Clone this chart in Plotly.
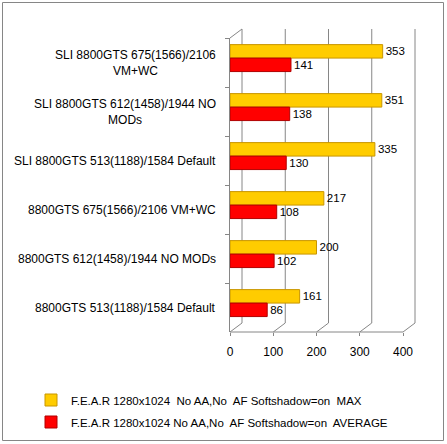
import plotly.graph_objects as go

# Categories, top to bottom as shown
categories = [
    "SLI 8800GTS 675(1566)/2106<br>VM+WC",
    "SLI 8800GTS 612(1458)/1944 NO<br>MODs",
    "SLI 8800GTS 513(1188)/1584 Default",
    "8800GTS 675(1566)/2106 VM+WC",
    "8800GTS 612(1458)/1944 NO MODs",
    "8800GTS 513(1188)/1584 Default",
]
max_values = [353, 351, 335, 217, 200, 161]
avg_values = [141, 138, 130, 108, 102, 86]
series_names = [
    "F.E.A.R 1280x1024  No AA,No  AF Softshadow=on  MAX",
    "F.E.A.R 1280x1024 No AA,No  AF Softshadow=on  AVERAGE",
]
x_ticks = [0, 100, 200, 300, 400]

font_family = "Liberation Sans"
grey = '#868686'

# plot area (front plane) in pixels: x 230..403, y 38..332
L, R, T, B = 230, 403, 38, 332
W, H = 447, 444
pw, ph = float(R - L), float(B - T)
def px(x):
    return (x - L) / pw
def py(y):
    return (B - y) / ph

# 3d depth of the chart walls
dx, dy = 12, 9

bar_w = 0.275
shift = 0.09

fig = go.Figure()
fig.add_trace(go.Bar(
    y=categories, x=max_values, orientation='h', name=series_names[0],
    legendgroup='max', width=bar_w, offset=-shift - bar_w,
    marker=dict(color='#FFCC00', line=dict(color='#C89600', width=1)),
    text=max_values, textposition='outside', cliponaxis=False,
    textfont=dict(size=11.5, color='#000000'),
))
fig.add_trace(go.Bar(
    y=categories, x=avg_values, orientation='h', name=series_names[1],
    legendgroup='avg', width=bar_w, offset=-shift,
    marker=dict(color='#FF0000', line=dict(color='#B00000', width=1)),
    text=avg_values, textposition='outside', cliponaxis=False,
    textfont=dict(size=11.5, color='#000000'),
))

shapes = []
for t in x_ticks:
    fx = L + t * pw / 400
    bx = fx + dx
    # back wall gridline
    shapes.append(dict(type='line', xref='paper', yref='paper',
                       x0=px(bx), x1=px(bx), y0=py(B - dy), y1=py(T - dy),
                       line=dict(color=grey, width=1), layer='below'))
    # floor line from front tick to back wall
    shapes.append(dict(type='line', xref='paper', yref='paper',
                       x0=px(fx), x1=px(bx), y0=0, y1=py(B - dy),
                       line=dict(color=grey, width=1), layer='below'))
# left wall top edge
shapes.append(dict(type='line', xref='paper', yref='paper',
                   x0=0, x1=px(L + dx), y0=1, y1=py(T - dy),
                   line=dict(color=grey, width=1), layer='below'))
# front base line
shapes.append(dict(type='line', xref='paper', yref='paper', x0=0, x1=1,
                   y0=0, y1=0, line=dict(color=grey, width=1)))
# outer chart border
shapes.append(dict(type='rect', xref='paper', yref='paper',
                   x0=px(2.5), x1=px(443.5), y0=py(440.5), y1=py(2.5),
                   line=dict(color=grey, width=1), fillcolor='rgba(0,0,0,0)'))

# category labels, centred lines like the original
annotations = [
    dict(x=px(218), y=c, xref='paper', yref='y', text=c, showarrow=False,
         xanchor='right', yanchor='middle', align='center',
         font=dict(size=12, color='#000000'))
    for c in categories
]

fig.update_layout(
    width=W, height=H,
    margin=dict(l=L, r=W - R, t=T, b=H - B, autoexpand=False),
    paper_bgcolor='white', plot_bgcolor='white',
    font=dict(family=font_family, size=11, color='#000000'),
    barmode='group',
    showlegend=True,
    legend=dict(orientation='v', xref='container', yref='container',
                x=31 / W, xanchor='left', y=1 - 411 / H, yanchor='middle',
                font=dict(size=11.5), tracegroupgap=3, itemwidth=30,
                bgcolor='rgba(0,0,0,0)'),
    xaxis=dict(range=[0, 400], tickvals=x_ticks, showgrid=False, zeroline=False,
               showline=False, ticks='outside', ticklen=3, tickcolor=grey,
               tickfont=dict(size=12), tickangle=0,
               ticklabelstandoff=6, automargin=False),
    yaxis=dict(autorange='reversed', showgrid=False, showline=True, linecolor=grey,
               ticks='outside', ticklen=4, tickcolor=grey, tickson='boundaries',
               showticklabels=False, automargin=False),
    shapes=shapes,
    annotations=annotations,
)

# drop the default page margin so the chart sits at the window's corner
fig.write_html("out.html", config={'displayModeBar': False},
               post_script="document.body.style.margin='0';")
